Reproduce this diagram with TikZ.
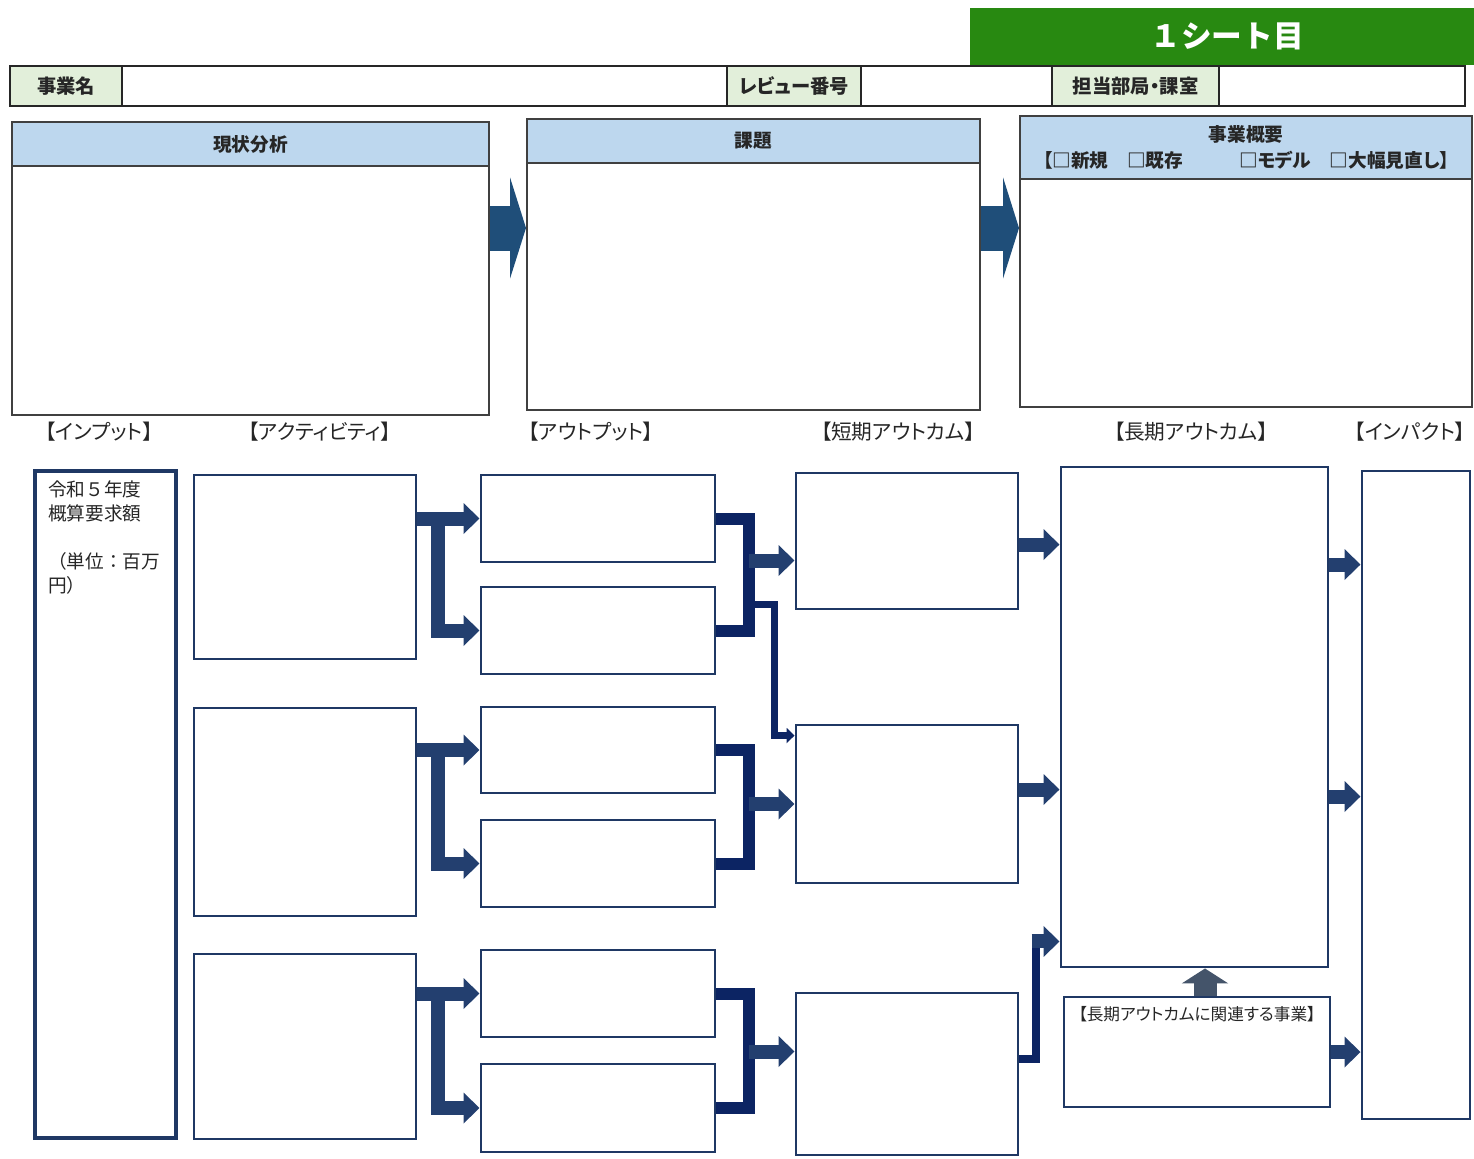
\documentclass[tikz,border=0pt]{standalone}
\usepackage{fontspec}
\setmainfont{Noto Sans CJK JP}[RawFeature=+palt]
\newfontfamily\jpfull{Noto Sans CJK JP}
\usetikzlibrary{arrows.meta,calc,fit}
\definecolor{bannergreen}{HTML}{288911}
\definecolor{labgreen}{HTML}{E2EFDA}
\definecolor{hdrblue}{HTML}{BDD7EE}
\definecolor{bigblue}{HTML}{1F4E79}
\definecolor{navy}{HTML}{1F3864}
\definecolor{arrnavy}{HTML}{233F6F}
\definecolor{brknavy}{HTML}{0C2463}
\definecolor{upgrey}{HTML}{44546A}
\definecolor{txtgrey}{HTML}{262626}
\begin{document}
\begin{tikzpicture}[x=0.75pt,y=-0.75pt,
  lab/.style={draw=black!85, line width=1.5pt, fill=labgreen, inner sep=0pt},
  labtxt/.style={inner sep=0pt, font=\fontsize{14.5}{17}\selectfont\bfseries, text=txtgrey},
  cellw/.style={draw=black!85, line width=1.5pt, fill=white, inner sep=0pt},
  th/.style={draw=black!75, line width=1.5pt, fill=hdrblue, inner sep=0pt},
  thtxt/.style={inner sep=0pt, font=\fontsize{14}{19}\selectfont\bfseries, text=txtgrey, align=center},
  tb/.style={draw=black!75, line width=1.5pt, fill=white, inner sep=0pt},
  lb/.style={draw=navy, line width=2.2pt, fill=white, inner sep=0pt},
  coltxt/.style={font=\fontsize{15.5}{19}\selectfont, text=txtgrey},
  bigarr/.style={draw=bigblue, line width=33.75pt, -{Triangle[length=12pt,width=75.75pt]}},
  arrA/.style={draw=arrnavy, line width=10.5pt, -{Triangle[length=12pt,width=22.5pt]}},
  thinA/.style={draw=brknavy, line width=5pt, line join=miter, -{Triangle[length=6pt,width=11.25pt]}},
  brk/.style={draw=brknavy, line width=9pt, line join=miter},
  elb/.style={draw=brknavy, line width=6pt, line join=miter},
  upA/.style={draw=upgrey, line width=17.25pt, -{Triangle[length=11.25pt,width=34.5pt]}}
]
\useasboundingbox (0,0) rectangle (1474,1158);

% banner
\node[fill=bannergreen, inner sep=0pt, fit={(970,8) (1474,65)}] (sheet) {};
\node[inner sep=0pt, font=\jpfull\fontsize{23}{27}\selectfont\bfseries, text=white] (sheetT) at ($(sheet.center)+(5,0)$) {１シート目};

% header row
\node[lab, fit={(10,66) (122,106)}] (nameL) {};
\node[labtxt] at (nameL.center) {事業名};
\node[cellw, fit={(122,66) (727,106)}] (nameV) {};
\node[lab, fit={(727,66) (861,106)}] (revL) {};
\node[labtxt] at (revL.center) {レビュー番号};
\node[cellw, fit={(861,66) (1052,106)}] (revV) {};
\node[lab, fit={(1052,66) (1219,106)}] (deptL) {};
\node[labtxt] at (deptL.center) {担当部局・課室};
\node[cellw, fit={(1219,66) (1465,106)}] (deptV) {};

% top boxes
\node[th, fit={(12,122) (489,166)}] (anaH) {};
\node[thtxt] at (anaH.center) {現状分析};
\node[tb, fit={(12,166) (489,415)}] (anaB) {};
\node[th, fit={(527,119) (980,163)}] (issH) {};
\node[thtxt] at (issH.center) {課題};
\node[tb, fit={(527,163) (980,410)}] (issB) {};
\node[th, fit={(1020,116) (1472,179)}] (sumH) {};
\node[thtxt] at (sumH.center) {事業概要\\【□新規　□既存　　　□モデル　□大幅見直し】};
\node[tb, fit={(1020,179) (1472,407)}] (sumB) {};

\draw[bigarr] (anaB.east |- 0,228) -- (issB.west |- 0,228);
\draw[bigarr] (issB.east |- 0,228) -- (sumB.west |- 0,228);

% column labels
\node[coltxt] (cIn) at (99,432) {【インプット】};
\node[coltxt] (cAct) at (320,432) {【アクティビティ】};
\node[coltxt] (cOut) at (591,432) {【アウトプット】};
\node[coltxt] (cSt) at (898,432) {【短期アウトカム】};
\node[coltxt] (cLt) at (1191,432) {【長期アウトカム】};
\node[coltxt] (cImp) at (1410,432) {【インパクト】};

% lower boxes
\node[lb, line width=3pt, fit={(35,471) (176,1138)}] (inp) {};
\node[anchor=north west, align=left, inner sep=0pt, font=\jpfull\fontsize{14}{18}\selectfont, text=txtgrey] (inpT) at (48,480) {令和５年度\\概算要求額\\[18pt]（単位：百万\\円）};

\node[lb, fit={(194,475) (416,659)}] (act1) {};
\node[lb, fit={(194,708) (416,916)}] (act2) {};
\node[lb, fit={(194,954) (416,1139)}] (act3) {};

\node[lb, fit={(481,475) (715,562)}] (out1) {};
\node[lb, fit={(481,587) (715,674)}] (out2) {};
\node[lb, fit={(481,707) (715,793)}] (out3) {};
\node[lb, fit={(481,820) (715,907)}] (out4) {};
\node[lb, fit={(481,950) (715,1037)}] (out5) {};
\node[lb, fit={(481,1064) (715,1152)}] (out6) {};

\node[lb, fit={(796,473) (1018,609)}] (st1) {};
\node[lb, fit={(796,725) (1018,883)}] (st2) {};
\node[lb, fit={(796,993) (1018,1155)}] (st3) {};

\node[lb, fit={(1061,467) (1328,967)}] (long) {};
\node[lb, fit={(1064,997) (1330,1107)}] (rel) {};
\node[font=\fontsize{12.5}{15}\selectfont, text=txtgrey] (relT) at ($(rel.north)+(0,19)$) {【長期アウトカムに関連する事業】};
\node[lb, fit={(1362,471) (1470,1119)}] (imp) {};

% activity -> outputs
\draw[arrA] (act1.east |- out1.west) -- (out1.west);
\draw[arrA] ($(act1.east |- out1.west)+(21,0)$) |- (out2.west);
\draw[arrA] (act2.east |- out3.west) -- (out3.west);
\draw[arrA] ($(act2.east |- out3.west)+(21,0)$) |- (out4.west);
\draw[arrA] (act3.east |- out5.west) -- (out5.west);
\draw[arrA] ($(act3.east |- out5.west)+(21,0)$) |- (out6.west);

% outputs -> short-term outcomes
\draw[brk] (out1.east) -- ++(33,0) |- (out2.east);
\coordinate (j1) at ($(out1.east)+(33,42)$);
\draw[arrA] (j1) -- (j1 -| st1.west);
\coordinate (j1b) at ($(out1.east)+(33,86)$);
\draw[thinA] (j1b) -- ++(25,0) |- ($(st2.north west)+(0,12)$);

\draw[brk] (out3.east) -- ++(33,0) |- (out4.east);
\coordinate (j2) at ($(out3.east)+(33,0)$);
\draw[arrA] (st2.west -| j2) -- (st2.west);

\draw[brk] (out5.east) -- ++(33,0) |- (out6.east);
\coordinate (j3) at ($(out5.east)+(33,58)$);
\draw[arrA] (j3) -- (j3 -| st3.west);

% short-term -> long-term
\coordinate (s1) at ($(st1.north east)+(0,73)$);
\draw[arrA] (s1) -- (s1 -| long.west);
\coordinate (s2) at ($(st2.north east)+(0,66)$);
\draw[arrA] (s2) -- (s2 -| long.west);
\coordinate (s3) at ($(st3.north east)+(0,67)$);
\draw[elb] (s3) -| ($(long.south west)+(-24,-27)$);
\draw[arrA] ($(long.south west)+(-28,-27)$) -- ($(long.south west)+(0,-27)$);

% related -> long-term
\coordinate (u) at ($(rel.north)+(8,0)$);
\draw[upA] (u) -- (u |- long.south);

% long-term -> impact
\coordinate (l1) at ($(long.north east)+(0,99)$);
\draw[arrA] (l1) -- (l1 -| imp.west);
\coordinate (l2) at ($(long.north east)+(0,331)$);
\draw[arrA] (l2) -- (l2 -| imp.west);
\draw[arrA] (rel.east) -- (rel.east -| imp.west);
\end{tikzpicture}
\end{document}
